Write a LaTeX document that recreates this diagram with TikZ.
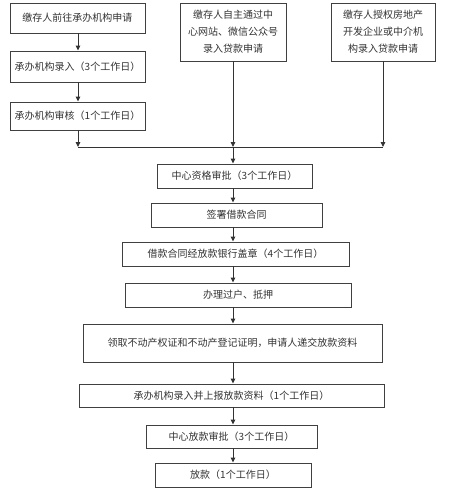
\documentclass[tikz,border=0pt]{standalone}
\usepackage{fontspec}
\setmainfont{Noto Sans CJK SC}
\usetikzlibrary{arrows.meta}
\begin{document}
\begin{tikzpicture}[x=1pt,y=-1pt,
  box/.style={draw=black!75, line width=0.9pt, fill=white, text=black!80, inner sep=1pt,
    font=\fontsize{10}{17}\selectfont, align=center},
  arr/.style={draw=black!80, line width=0.9pt, -{Triangle[length=5pt,width=4.5pt]}},
  ln/.style={draw=black!80, line width=0.9pt}]
\useasboundingbox[fill=white] (0,0) rectangle (450,493);
\coordinate (spine) at (233,0);
\coordinate (lspine) at (78,0);
\node[box, minimum width=135pt, minimum height=30pt] (b1) at (77.5,18) {缴存人前往承办机构申请};
\node[box, minimum width=135pt, minimum height=31pt] (b2) at (77.5,66.5) {承办机构录入（3个工作日）};
\node[box, minimum width=135pt, minimum height=28pt] (b3) at (77.5,116) {承办机构审核（1个工作日）};
\node[box, minimum width=106pt, minimum height=58pt] (m) at (233,32) {缴存人自主通过中\\心网站、微信公众号\\录入贷款申请};
\node[box, minimum width=104pt, minimum height=58pt] (r) at (383,32) {缴存人授权房地产\\开发企业或中介机\\构录入贷款申请};
\coordinate (jl) at (78,147);
\coordinate (jm) at (233,147);
\coordinate (jr) at (383,147);
\node[box, minimum width=155pt, minimum height=24pt] (c1) at (234.5,176) {中心资格审批（3个工作日）};
\node[box, minimum width=171pt, minimum height=24pt] (c2) at (236.5,215) {签署借款合同};
\node[box, minimum width=227pt, minimum height=24pt] (c3) at (235.5,254) {借款合同经放款银行盖章（4个工作日）};
\node[box, minimum width=226pt, minimum height=24pt] (c4) at (238,295) {办理过户、抵押};
\node[box, minimum width=299pt, minimum height=38pt] (c5) at (232.5,343) {领取不动产权证和不动产登记证明，申请人递交放款资料};
\node[box, minimum width=305pt, minimum height=23pt] (c6) at (231.5,395.5) {承办机构录入并上报放款资料（1个工作日）};
\node[box, minimum width=171pt, minimum height=23pt] (c7) at (231.5,436.5) {中心放款审批（3个工作日）};
\node[box, minimum width=156pt, minimum height=24pt] (c8) at (233,475) {放款（1个工作日）};
\draw[arr] (b1.south -| lspine) -- (b2.north -| lspine);
\draw[arr] (b2.south -| lspine) -- (b3.north -| lspine);
\draw[arr] (b3.south -| lspine) -- (jl);
\draw[arr] (m.south) -- (jm);
\draw[arr] (r.south) -- (jr);
\draw[ln] (jl) -- (jr);
\draw[arr] (jm) -- (c1.north -| spine);
\draw[arr] (c1.south -| spine) -- (c2.north -| spine);
\draw[arr] (c2.south -| spine) -- (c3.north -| spine);
\draw[arr] (c3.south -| spine) -- (c4.north -| spine);
\draw[arr] (c4.south -| spine) -- (c5.north -| spine);
\draw[arr] (c5.south -| spine) -- (c6.north -| spine);
\draw[arr] (c6.south -| spine) -- (c7.north -| spine);
\draw[arr] (c7.south -| spine) -- (c8.north -| spine);
\end{tikzpicture}
\end{document}
